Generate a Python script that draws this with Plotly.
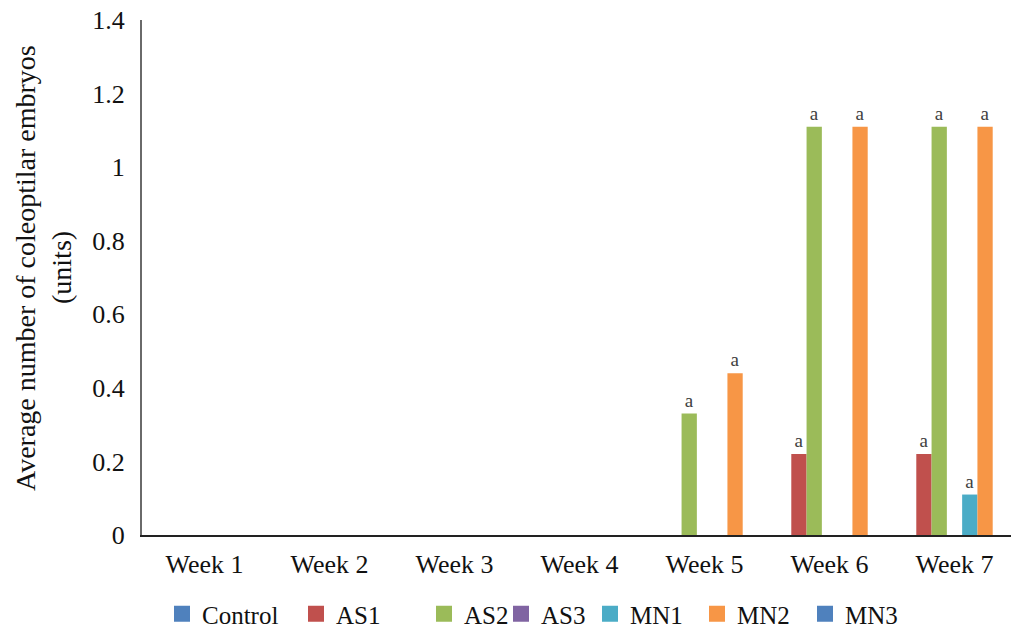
import plotly.graph_objects as go

# Weekly average number of coleoptilar embryos per treatment
weeks = ["Week 1", "Week 2", "Week 3", "Week 4", "Week 5", "Week 6", "Week 7"]

treatments = ["Control", "AS1", "AS2", "AS3", "MN1", "MN2", "MN3"]
control = [0, 0, 0, 0, 0, 0, 0]
as1 = [0, 0, 0, 0, 0, 0.22, 0.22]
as2 = [0, 0, 0, 0, 0.33, 1.11, 1.11]
as3 = [0, 0, 0, 0, 0, 0, 0]
mn1 = [0, 0, 0, 0, 0, 0, 0.11]
mn2 = [0, 0, 0, 0, 0.44, 1.11, 1.11]
mn3 = [0, 0, 0, 0, 0, 0, 0]

# significance letters shown above the bars
control_sig = ["", "", "", "", "", "", ""]
as1_sig = ["", "", "", "", "", "a", "a"]
as2_sig = ["", "", "", "", "a", "a", "a"]
as3_sig = ["", "", "", "", "", "", ""]
mn1_sig = ["", "", "", "", "", "", "a"]
mn2_sig = ["", "", "", "", "a", "a", "a"]
mn3_sig = ["", "", "", "", "", "", ""]

y_ticks = [0, 0.2, 0.4, 0.6, 0.8, 1, 1.2, 1.4]
y_tick_labels = ["0", "0.2", "0.4", "0.6", "0.8", "1", "1.2", "1.4"]

series = [control, as1, as2, as3, mn1, mn2, mn3]
letters = [control_sig, as1_sig, as2_sig, as3_sig, mn1_sig, mn2_sig, mn3_sig]
colors = ["#4F81BD", "#C0504D", "#9BBB59", "#8064A2", "#4BACC6", "#F79646", "#4F81BD"]

# legend square centres (px from the left edge of the page)
legend_centres = [182, 316, 444, 521, 610, 717, 825]

W, H = 1011, 632
FONT = '"Liberation Serif", "Times New Roman", Times, serif'

fig = go.Figure()
for name, vals, sig, col in zip(treatments, series, letters, colors):
    fig.add_trace(go.Bar(
        x=weeks, y=vals, name=name, marker_color=col,
        marker_line_width=0,
        text=sig, textposition="outside", cliponaxis=False,
        textfont=dict(family=FONT, size=19, color="#404040"),
        showlegend=False,
    ))

# legend entries with large square swatches, each placed on its own
for i, (name, col) in enumerate(zip(treatments, colors)):
    key = "legend" if i == 0 else f"legend{i + 1}"
    fig.add_trace(go.Scatter(
        x=[None], y=[None], mode="markers", name=name,
        marker=dict(symbol="square", size=18, color=col),
        legend=key, showlegend=True,
    ))

legend_layouts = {}
for i, cx in enumerate(legend_centres):
    key = "legend" if i == 0 else f"legend{i + 1}"
    legend_layouts[key] = dict(
        xref="container", yref="container",
        x=(cx - 20) / W, y=1 - 614 / H,
        xanchor="left", yanchor="middle",
        orientation="h", bgcolor="rgba(0,0,0,0)", borderwidth=0,
        font=dict(family=FONT, size=25, color="#111111"),
        itemclick=False, itemdoubleclick=False,
    )

L, R, T, B = 142, 0, 20, 97
plot_w = W - L - R
cat_px = 125.0

fig.update_layout(
    width=W, height=H,
    margin=dict(l=L, r=R, t=T, b=B),
    paper_bgcolor="white", plot_bgcolor="white",
    barmode="group", bargap=0.144, bargroupgap=0,
    font=dict(family=FONT, size=26, color="#111111"),
    **legend_layouts,
)

fig.update_xaxes(
    range=[-0.5, -0.5 + plot_w / cat_px],
    showline=True, linecolor="#222222", linewidth=2,
    showgrid=False, zeroline=False, ticks="",
    tickfont=dict(family=FONT, size=26, color="#111111"),
    ticklabelstandoff=5,
)
fig.update_yaxes(
    range=[0, 1.4],
    tickvals=y_ticks, ticktext=y_tick_labels,
    showline=True, linecolor="#6a6a6a", linewidth=2,
    showgrid=False, zeroline=False, ticks="",
    tickfont=dict(family=FONT, size=26, color="#111111"),
    ticklabelstandoff=10,
)

# two-line axis title
title_y = (535 - 268) / (H - T - B)
fig.add_annotation(
    text="Average number of coleoptilar embryos",
    xref="paper", yref="paper", x=(25 - L) / plot_w, y=title_y,
    xanchor="center", yanchor="middle", textangle=-90, showarrow=False,
    font=dict(family=FONT, size=28, color="#111111"),
)
fig.add_annotation(
    text="(units)",
    xref="paper", yref="paper", x=(61 - L) / plot_w, y=title_y,
    xanchor="center", yanchor="middle", textangle=-90, showarrow=False,
    font=dict(family=FONT, size=28, color="#111111"),
)

fig.write_html("out.html")
